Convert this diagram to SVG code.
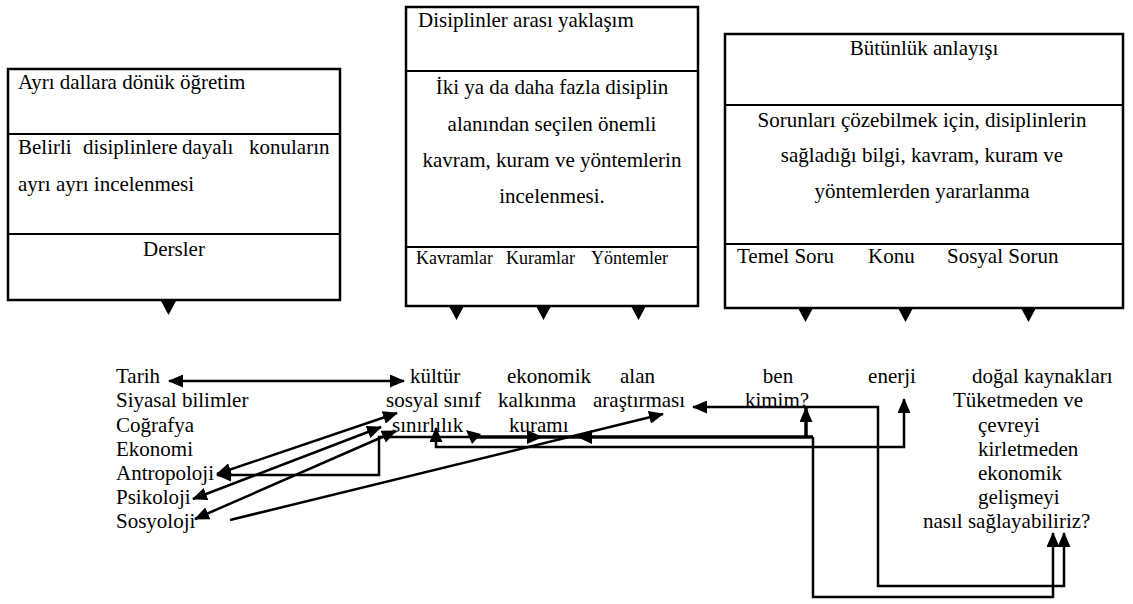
<svg xmlns="http://www.w3.org/2000/svg" width="1133" height="604" viewBox="0 0 1133 604" font-family="'Liberation Serif', 'Times New Roman', serif">
<defs>
<style>
text { font-family: "Liberation Serif", "Times New Roman", serif; font-size: 21px; fill: #000; }
.sm { font-size: 18px; }
.mid { text-anchor: middle; }
.box { fill: #fff; stroke: #000; stroke-width: 2.5; }
.dv { stroke: #000; stroke-width: 2; }
.tri { fill: #000; }
.c { fill: none; stroke: #000; stroke-width: 2.5; }
.ck { fill: none; stroke: #000; stroke-width: 3.5; }
.ah { fill: #000; }
</style>
<marker id="ah" viewBox="0 0 15 13" markerWidth="15" markerHeight="13" refX="14" refY="6.5" orient="auto-start-reverse" markerUnits="userSpaceOnUse">
<path d="M0,0 L15,6.5 L0,13 z" fill="#000"/>
</marker>
</defs>
<rect width="1133" height="604" fill="#fff"/>

<g id="box-ayri">
<rect class="box" x="8" y="69" width="332" height="231"/>
<line class="dv" x1="8" y1="134" x2="340" y2="134"/>
<line class="dv" x1="8" y1="234" x2="340" y2="234"/>
<text x="18" y="89">Ayrı dallara dönük öğretim</text>
<text x="18" y="154">Belirli</text>
<text x="83" y="154">disiplinlere</text>
<text x="182" y="154">dayalı</text>
<text x="249" y="154">konuların</text>
<text x="18" y="191">ayrı ayrı incelenmesi</text>
<text class="mid" x="174" y="256">Dersler</text>
<polygon class="tri" points="161,301 176,301 168.5,315"/>
</g>

<g id="box-disiplinler">
<rect class="box" x="406" y="7" width="292" height="299"/>
<line class="dv" x1="406" y1="71" x2="698" y2="71"/>
<line class="dv" x1="406" y1="247" x2="698" y2="247"/>
<text x="418" y="27">Disiplinler arası yaklaşım</text>
<text class="mid" x="552" y="94">İki ya da daha fazla disiplin</text>
<text class="mid" x="552" y="131">alanından seçilen önemli</text>
<text class="mid" x="552" y="167">kavram, kuram ve yöntemlerin</text>
<text class="mid" x="552" y="203">incelenmesi.</text>
<text class="sm" x="416" y="264">Kavramlar</text>
<text class="sm" x="506" y="264">Kuramlar</text>
<text class="sm" x="591" y="264">Yöntemler</text>
<polygon class="tri" points="449,306 464,306 456.5,320"/>
<polygon class="tri" points="536,306 551,306 543.5,320"/>
<polygon class="tri" points="631,306 646,306 638.5,320"/>
</g>

<g id="box-butunluk">
<rect class="box" x="725" y="34" width="398" height="274"/>
<line class="dv" x1="725" y1="105" x2="1123" y2="105"/>
<line class="dv" x1="725" y1="244" x2="1123" y2="244"/>
<text class="mid" x="924" y="55">Bütünlük anlayışı</text>
<text class="mid" x="922" y="127">Sorunları çözebilmek için, disiplinlerin</text>
<text class="mid" x="922" y="162">sağladığı bilgi, kavram, kuram ve</text>
<text class="mid" x="922" y="198">yöntemlerden yararlanma</text>
<text x="737" y="263">Temel Soru</text>
<text x="868" y="263">Konu</text>
<text x="947" y="263">Sosyal Sorun</text>
<polygon class="tri" points="798,308 813,308 805.5,322"/>
<polygon class="tri" points="898,308 913,308 905.5,322"/>
<polygon class="tri" points="1021,308 1036,308 1028.5,322"/>
</g>

<g id="dersler-listesi">
<text x="116" y="383">Tarih</text>
<text x="116" y="407">Siyasal bilimler</text>
<text x="116" y="432">Coğrafya</text>
<text x="116" y="456">Ekonomi</text>
<text x="116" y="480">Antropoloji</text>
<text x="116" y="504">Psikoloji</text>
<text x="116" y="528">Sosyoloji</text>
</g>

<g id="kavramlar">
<text x="410" y="383">kültür</text>
<text x="386" y="407">sosyal sınıf</text>
<text x="392" y="432">sınırlılık</text>
</g>

<g id="kuramlar">
<text x="507" y="383">ekonomik</text>
<text x="498" y="407">kalkınma</text>
<text x="509" y="432">kuramı</text>
</g>

<g id="yontemler">
<text x="620" y="383">alan</text>
<text x="593" y="407">araştırması</text>
</g>

<g id="temel-soru">
<text class="mid" x="778" y="383">ben</text>
<text class="mid" x="777" y="407">kimim?</text>
</g>

<g id="konu">
<text class="mid" x="892" y="383">enerji</text>
</g>

<g id="sosyal-sorun">
<text x="972" y="383">doğal kaynakları</text>
<text x="953" y="407">Tüketmeden ve</text>
<text x="978" y="432">çevreyi</text>
<text x="978" y="456">kirletmeden</text>
<text x="978" y="480">ekonomik</text>
<text x="978" y="504">gelişmeyi</text>
<text x="923" y="528">nasıl sağlayabiliriz?</text>
</g>

<g id="connectors">
<line class="c" x1="169" y1="381" x2="404" y2="381" marker-start="url(#ah)" marker-end="url(#ah)"/>
<line class="c" x1="217" y1="474" x2="397" y2="413" marker-start="url(#ah)" marker-end="url(#ah)"/>
<line class="c" x1="193" y1="499" x2="381" y2="427" marker-start="url(#ah)" marker-end="url(#ah)"/>
<line class="c" x1="195" y1="519" x2="396" y2="431" marker-start="url(#ah)" marker-end="url(#ah)"/>
<line class="c" x1="230" y1="520" x2="663" y2="414" marker-end="url(#ah)"/>
<path class="c" d="M217,475 L379,475 L379,437 L470,437" marker-start="url(#ah)"/>
<path class="ck" d="M470,437 L813,437"/>
<path class="c" d="M813,437 L813,597 L1053,597 L1053,533" marker-end="url(#ah)"/>
<path class="ck" d="M806,437 L806,408" marker-end="url(#ah)"/>
<path class="c" d="M436,428 L436,447 L904,447 L904,399" marker-start="url(#ah)" marker-end="url(#ah)"/>
<path class="c" d="M693,407 L878,407 L878,586 L1064,586 L1064,533" marker-start="url(#ah)" marker-end="url(#ah)"/>
<polygon class="ah" points="527,430 543,437 527,444"/>
<polygon class="ah" points="592,430 577,437 592,444"/>
<polygon class="ah" points="466,430 481,434 472,444"/>
</g>
</svg>
